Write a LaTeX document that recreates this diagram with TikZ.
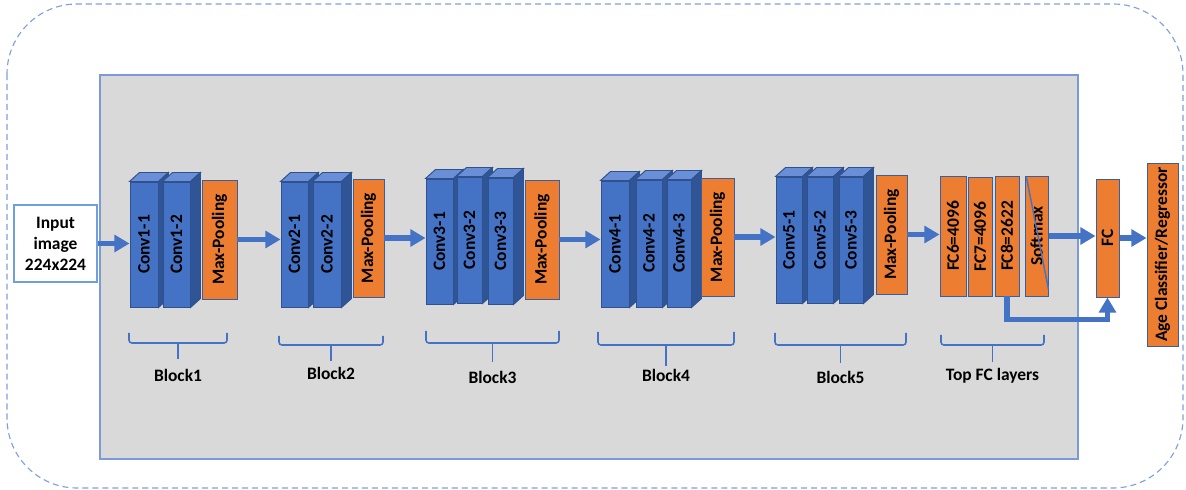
\documentclass[tikz,border=0pt]{standalone}
\usepackage{fontspec}
\setmainfont{Carlito}
\usetikzlibrary{arrows.meta,positioning}
\definecolor{convblue}{RGB}{68,114,196}
\definecolor{convside}{RGB}{47,85,151}
\definecolor{convtop}{RGB}{106,143,214}
\definecolor{convedge}{RGB}{47,82,143}
\definecolor{poolorange}{RGB}{237,125,49}
\definecolor{pooledge}{RGB}{58,95,158}
\definecolor{panelgray}{RGB}{217,217,217}
\definecolor{paneledge}{RGB}{122,154,216}
\definecolor{inputedge}{RGB}{111,160,220}
\definecolor{dashblue}{RGB}{127,160,218}

\tikzset{
  sz/.style 2 args={minimum width=#1*0.025cm, minimum height=#2*0.025cm},
  layer/.style={inner sep=0pt, line width=0.7pt, font=\bfseries\fontsize{12.4}{15}\selectfont},
  conv/.style={layer, fill=convblue, draw=convedge},
  pool/.style={layer, fill=poolorange, draw=pooledge},
  flow/.style={draw=convblue, line width=3.6pt, -{Triangle[length=0.38cm,width=0.42cm]}},
  brace/.style={draw=convblue, line width=1.1pt, rounded corners=2pt},
  tag/.style={font=\bfseries\fontsize{12.4}{15}\selectfont}
}

% top and side faces of a conv layer
\newcommand{\cubefaces}[1]{%
  \filldraw[fill=convtop, draw=convedge, line width=0.7pt] (#1.north west) -- ++(10,-9)
    -- ([shift={(10,-9)}]#1.north east) -- (#1.north east) -- cycle;
  \filldraw[fill=convside, draw=convedge, line width=0.7pt] (#1.north east) -- ++(10,-9)
    -- ([shift={(10,-9)}]#1.south east) -- (#1.south east) -- cycle;}

\begin{document}
\begin{tikzpicture}[x=0.025cm, y=-0.025cm]
  \useasboundingbox (0,0) rectangle (1186,490);

  % frame and panel
  \draw[dashblue, line width=0.8pt, dash pattern=on 4.3pt off 2.8pt, rounded corners=1.75cm]
    (7,4) rectangle (1183,488);
  \filldraw[fill=panelgray, draw=paneledge, line width=1pt] (100,75) rectangle (1078,459);

  % braces under the blocks
  \foreach \xa/\xb/\yt/\ym/\yb/\yl/\txt/\nm in {
      129/227/333/343/359/375/Block1/b1,
      279/383/336/345/361/373/Block2/b2,
      426/559/331/343/362/377/Block3/b3,
      598/734/332/345/366/375/Block4/b4,
      775/906/333/345/363/377/Block5/b5,
      941/1044/335/345/362/376/Top FC layers/b6} {
    \draw[brace] (\xa,\yt) -- (\xa,\ym) -- (\xb,\ym) -- (\xb,\yt);
    \draw[brace] ({(\xa+\xb)/2},\ym) -- ({(\xa+\xb)/2},\yb);
    \node[tag] (\nm) at ({(\xa+\xb)/2},\yl) {\txt};
  }

  % input
  \node[draw=inputedge, fill=white, line width=1pt, sz={83}{77}, align=center,
        font=\bfseries\fontsize{12.4}{15}\selectfont] (in) at (55.5,243.5) {Input\\image\\224x224};

  % block 1
  \node[conv, sz={28}{125}] (c11) at (144,244.5) {\rotatebox{90}{Conv1-1}};
  \cubefaces{c11}
  \node[conv, sz={27}{125}] (c12) at (176.5,244.5) {\rotatebox{90}{Conv1-2}};
  \cubefaces{c12}
  \node[pool, sz={35}{119}] (p1) at (219.5,239.5) {\rotatebox{90}{Max-Pooling}};

  % block 2
  \node[conv, sz={27}{125}] (c21) at (294.5,244.5) {\rotatebox{90}{Conv2-1}};
  \cubefaces{c21}
  \node[conv, sz={28}{125}] (c22) at (327,244.5) {\rotatebox{90}{Conv2-2}};
  \cubefaces{c22}
  \node[pool, sz={31}{118}] (p2) at (368.5,238) {\rotatebox{90}{Max-Pooling}};

  % block 3
  \node[conv, sz={27}{125}] (c31) at (439.5,241.5) {\rotatebox{90}{Conv3-1}};
  \cubefaces{c31}
  \node[conv, sz={25}{126}] (c32) at (469.5,240) {\rotatebox{90}{Conv3-2}};
  \cubefaces{c32}
  \node[conv, sz={25}{126}] (c33) at (500.5,241) {\rotatebox{90}{Conv3-3}};
  \cubefaces{c33}
  \node[pool, sz={34}{119}] (p3) at (542,239.5) {\rotatebox{90}{Max-Pooling}};

  % block 4
  \node[conv, sz={28}{126}] (c41) at (615,244) {\rotatebox{90}{Conv4-1}};
  \cubefaces{c41}
  \node[conv, sz={26}{127}] (c42) at (649,243.5) {\rotatebox{90}{Conv4-2}};
  \cubefaces{c42}
  \node[conv, sz={24}{127}] (c43) at (679,243.5) {\rotatebox{90}{Conv4-3}};
  \cubefaces{c43}
  \node[pool, sz={33}{118}] (p4) at (717.5,237) {\rotatebox{90}{Max-Pooling}};

  % block 5
  \node[conv, sz={26}{126}] (c51) at (789,240) {\rotatebox{90}{Conv5-1}};
  \cubefaces{c51}
  \node[conv, sz={26}{126}] (c52) at (820,240) {\rotatebox{90}{Conv5-2}};
  \cubefaces{c52}
  \node[conv, sz={24}{126}] (c53) at (851,240) {\rotatebox{90}{Conv5-3}};
  \cubefaces{c53}
  \node[pool, sz={31}{119}] (p5) at (891.5,234.5) {\rotatebox{90}{Max-Pooling}};

  % top FC layers
  \node[pool, sz={26}{120}] (f6) at (953,236) {\rotatebox{90}{FC6=4096}};
  \node[pool, sz={24}{119}] (f7) at (980,236.5) {\rotatebox{90}{FC7=4096}};
  \node[pool, sz={24}{120}] (f8) at (1007,236) {\rotatebox{90}{FC8=2622}};
  \node[pool, sz={23}{120}] (sm) at (1036.5,236) {\rotatebox{90}{Softmax}};
  \draw[convblue, line width=1pt] ([shift={(2,2)}]sm.north west) -- ([shift={(0,-7)}]sm.south east);

  % head
  \node[pool, sz={23}{118}] (fc) at (1107.5,238) {\rotatebox{90}{FC}};
  \node[pool, sz={31}{183}] (age) at (1162.5,254.5) {\rotatebox{90}{Age Classifier/Regressor}};

  % connections
  \draw[flow] (in.east) -- (in.east -| c11.west);
  \draw[flow] (p1.east) -- (p1.east -| c21.west);
  \draw[flow] (p2.east) -- (p2.east -| c31.west);
  \draw[flow] (p3.east) -- (p3.east -| c41.west);
  \draw[flow] (p4.east) -- (p4.east -| c51.west);
  \draw[flow] (p5.east) -- (p5.east -| f6.west);
  \draw[flow] (sm.east) -- (sm.east -| fc.west);
  \draw[flow] (fc.east) -- (fc.east -| age.west);
  \draw[flow] (f8.south) -- ++(0,23) -| (fc.south);
\end{tikzpicture}
\end{document}
